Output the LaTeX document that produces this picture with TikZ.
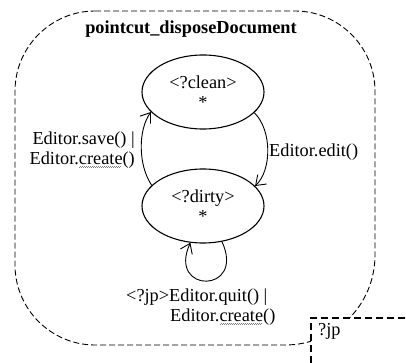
\documentclass[tikz,border=0pt]{standalone}
\usepackage{fontspec}
\setmainfont{Liberation Serif}
\usetikzlibrary{arrows.meta,shapes.geometric}
% grey zig-zag underline used for the flagged word "create"
\newsavebox\spellbox
\newcommand\spellmark[1]{\sbox\spellbox{#1}\rlap{\usebox\spellbox}\raisebox{-3.4pt}{\color{gray}\leaders\hbox{\rule{1pt}{0.8pt}\rule[0.8pt]{1pt}{0.8pt}}\hskip\wd\spellbox}}
\begin{document}
\begin{tikzpicture}[x=1pt,y=-1pt,
  every node/.style={font=\fontsize{18.3}{19.5}\selectfont, inner sep=0pt},
  state/.style={ellipse, draw, line width=1.1pt, minimum width=122pt, minimum height=74pt, align=center},
  arr/.style={line width=0.9pt, -{Straight Barb[length=9pt,width=13pt]}},
  frame/.style={dash pattern=on 6pt off 3pt, line width=0.9pt},
  jpline/.style={line width=1.6pt, dash pattern=on 7pt off 4pt}]
\useasboundingbox (0,0) rectangle (406,363);

% aspect frame: rounded box, wider bend at the lower right corner
\draw[frame] (95,11) -- (295,11)
  .. controls (339,11) and (375,47) .. (375,91)
  -- (375,255)
  .. controls (375,305) and (335,345) .. (285,345)
  -- (95,345)
  .. controls (51,345) and (15,309) .. (15,265)
  -- (15,91)
  .. controls (15,47) and (51,11) .. (95,11) -- cycle;
\node[anchor=base, font=\fontsize{18.3}{19.5}\selectfont\bfseries] (title) at (191,34) {pointcut\_disposeDocument};

% states
\node[state] (clean) at (203,92) {<?clean>\\*};
\node[state] (dirty) at (203,206) {<?dirty>\\*};

% transitions
\draw[arr] (dirty.158) .. controls (138,165) and (138,130) .. (clean.201);
\draw[arr] (clean.338) .. controls (272,130) and (272,170) .. (dirty.21);
\draw[arr] (dirty.-62) .. controls (246,294) and (167,294) .. (dirty.251);

% transition labels
\node[anchor=north east, align=right] (lsave) at (135,132) {Editor.save() |\\Editor.\spellmark{create}()};
\node[anchor=base west] (ledit) at (269,157) {Editor.edit()};
\node[anchor=north west, align=left] (lquit) at (126,289) {<?jp>Editor.quit() |\\\hspace*{44pt}Editor.\spellmark{create}()};

% join point parameter box
\fill[white] (311,318) rectangle (406,363);
\coordinate (jpbl) at (311,363);
\coordinate (jptl) at (311,318);
\coordinate (jptr) at (406,318);
\draw[jpline] (jpbl) -- (jptl) -- (jptr);
\node[anchor=base west] (jp) at (318,335) {?jp};
\end{tikzpicture}
\end{document}
